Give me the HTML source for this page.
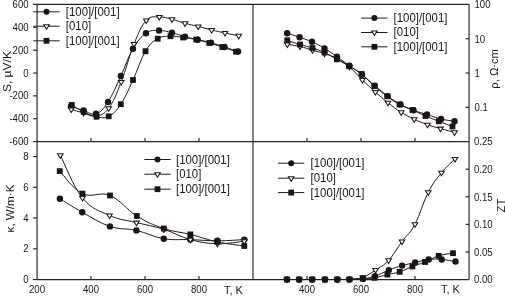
<!DOCTYPE html>
<html><head><meta charset="utf-8"><style>
html,body{margin:0;padding:0;background:#fff;}
svg{display:block;will-change:transform;font-family:"Liberation Sans",sans-serif;fill:#1a1616;}
</style></head><body>
<svg width="505" height="296" viewBox="0 0 505 296">
<rect x="0" y="0" width="505" height="296" fill="#fff"/>
<line x1="33.05" y1="4.45" x2="469.08" y2="4.45" stroke="#2a2222" stroke-width="1.15"/>
<line x1="37.05" y1="141.60" x2="469.08" y2="141.60" stroke="#2a2222" stroke-width="1.15"/>
<line x1="37.05" y1="279.55" x2="469.08" y2="279.55" stroke="#2a2222" stroke-width="1.15"/>
<line x1="37.05" y1="4.45" x2="37.05" y2="279.55" stroke="#2a2222" stroke-width="1.15"/>
<line x1="252.98" y1="4.45" x2="252.98" y2="279.55" stroke="#2a2222" stroke-width="1.15"/>
<line x1="469.08" y1="4.45" x2="469.08" y2="279.55" stroke="#2a2222" stroke-width="1.15"/>
<line x1="33.05" y1="27.31" x2="37.05" y2="27.31" stroke="#2a2222" stroke-width="1.15"/>
<line x1="33.05" y1="50.17" x2="37.05" y2="50.17" stroke="#2a2222" stroke-width="1.15"/>
<line x1="33.05" y1="73.03" x2="37.05" y2="73.03" stroke="#2a2222" stroke-width="1.15"/>
<line x1="33.05" y1="95.88" x2="37.05" y2="95.88" stroke="#2a2222" stroke-width="1.15"/>
<line x1="33.05" y1="118.74" x2="37.05" y2="118.74" stroke="#2a2222" stroke-width="1.15"/>
<line x1="33.05" y1="141.60" x2="37.05" y2="141.60" stroke="#2a2222" stroke-width="1.15"/>
<line x1="33.05" y1="279.55" x2="37.05" y2="279.55" stroke="#2a2222" stroke-width="1.15"/>
<line x1="33.05" y1="248.80" x2="37.05" y2="248.80" stroke="#2a2222" stroke-width="1.15"/>
<line x1="33.05" y1="218.05" x2="37.05" y2="218.05" stroke="#2a2222" stroke-width="1.15"/>
<line x1="33.05" y1="187.30" x2="37.05" y2="187.30" stroke="#2a2222" stroke-width="1.15"/>
<line x1="33.05" y1="156.55" x2="37.05" y2="156.55" stroke="#2a2222" stroke-width="1.15"/>
<line x1="465.58" y1="38.75" x2="469.08" y2="38.75" stroke="#2a2222" stroke-width="1.15"/>
<line x1="465.58" y1="73.05" x2="469.08" y2="73.05" stroke="#2a2222" stroke-width="1.15"/>
<line x1="465.58" y1="107.35" x2="469.08" y2="107.35" stroke="#2a2222" stroke-width="1.15"/>
<line x1="465.58" y1="251.96" x2="469.08" y2="251.96" stroke="#2a2222" stroke-width="1.15"/>
<line x1="465.58" y1="224.37" x2="469.08" y2="224.37" stroke="#2a2222" stroke-width="1.15"/>
<line x1="465.58" y1="196.78" x2="469.08" y2="196.78" stroke="#2a2222" stroke-width="1.15"/>
<line x1="465.58" y1="169.19" x2="469.08" y2="169.19" stroke="#2a2222" stroke-width="1.15"/>
<line x1="91.00" y1="138.10" x2="91.00" y2="141.60" stroke="#2a2222" stroke-width="1.15"/>
<line x1="91.00" y1="276.05" x2="91.00" y2="279.55" stroke="#2a2222" stroke-width="1.15"/>
<line x1="145.00" y1="138.10" x2="145.00" y2="141.60" stroke="#2a2222" stroke-width="1.15"/>
<line x1="145.00" y1="276.05" x2="145.00" y2="279.55" stroke="#2a2222" stroke-width="1.15"/>
<line x1="199.00" y1="138.10" x2="199.00" y2="141.60" stroke="#2a2222" stroke-width="1.15"/>
<line x1="199.00" y1="276.05" x2="199.00" y2="279.55" stroke="#2a2222" stroke-width="1.15"/>
<line x1="307.00" y1="138.10" x2="307.00" y2="141.60" stroke="#2a2222" stroke-width="1.15"/>
<line x1="307.00" y1="276.05" x2="307.00" y2="279.55" stroke="#2a2222" stroke-width="1.15"/>
<line x1="361.00" y1="138.10" x2="361.00" y2="141.60" stroke="#2a2222" stroke-width="1.15"/>
<line x1="361.00" y1="276.05" x2="361.00" y2="279.55" stroke="#2a2222" stroke-width="1.15"/>
<line x1="415.00" y1="138.10" x2="415.00" y2="141.60" stroke="#2a2222" stroke-width="1.15"/>
<line x1="415.00" y1="276.05" x2="415.00" y2="279.55" stroke="#2a2222" stroke-width="1.15"/>
<path d="M71.00,106.20 C73.52,107.06 78.60,108.98 83.60,110.50 C88.60,112.02 91.12,115.50 96.00,113.80 C100.88,112.10 103.04,109.56 108.00,102.00 C112.96,94.44 115.80,86.64 120.80,76.00 C125.80,65.36 127.96,57.36 133.00,48.80 C138.04,40.24 140.80,36.86 146.00,33.20 C151.20,29.54 153.80,30.60 159.00,30.50 C164.20,30.40 166.80,31.46 172.00,32.70 C177.20,33.94 179.84,35.30 185.00,36.70 C190.16,38.10 192.60,38.50 197.80,39.70 C203.00,40.90 205.66,41.24 211.00,42.70 C216.34,44.16 219.10,45.24 224.50,47.00 C229.90,48.76 235.30,50.60 238.00,51.50" fill="none" stroke="#231a18" stroke-width="1.0"/><circle cx="71.00" cy="106.20" r="3.20" fill="#1a1412"/><circle cx="83.60" cy="110.50" r="3.20" fill="#1a1412"/><circle cx="96.00" cy="113.80" r="3.20" fill="#1a1412"/><circle cx="108.00" cy="102.00" r="3.20" fill="#1a1412"/><circle cx="120.80" cy="76.00" r="3.20" fill="#1a1412"/><circle cx="133.00" cy="48.80" r="3.20" fill="#1a1412"/><circle cx="146.00" cy="33.20" r="3.20" fill="#1a1412"/><circle cx="159.00" cy="30.50" r="3.20" fill="#1a1412"/><circle cx="172.00" cy="32.70" r="3.20" fill="#1a1412"/><circle cx="185.00" cy="36.70" r="3.20" fill="#1a1412"/><circle cx="197.80" cy="39.70" r="3.20" fill="#1a1412"/><circle cx="211.00" cy="42.70" r="3.20" fill="#1a1412"/><circle cx="224.50" cy="47.00" r="3.20" fill="#1a1412"/><circle cx="238.00" cy="51.50" r="3.20" fill="#1a1412"/>
<path d="M71.20,109.40 C73.70,110.12 78.74,111.68 83.70,113.00 C88.66,114.32 91.00,116.96 96.00,116.00 C101.00,115.04 103.66,115.00 108.70,108.20 C113.74,101.40 116.14,94.84 121.20,82.00 C126.26,69.16 128.98,56.30 134.00,44.00 C139.02,31.70 141.24,25.90 146.30,20.50 C151.36,15.10 154.16,17.24 159.30,17.00 C164.44,16.76 166.86,18.04 172.00,19.30 C177.14,20.56 179.76,21.86 185.00,23.30 C190.24,24.74 192.86,25.16 198.20,26.50 C203.54,27.84 206.34,28.70 211.70,30.00 C217.06,31.30 219.60,31.84 225.00,33.00 C230.40,34.16 235.96,35.24 238.70,35.80" fill="none" stroke="#231a18" stroke-width="1.0"/><path d="M68.40,107.90 L74.00,107.90 L71.20,112.50 Z" fill="#fff" stroke="#1a1412" stroke-width="1.05" stroke-linejoin="miter"/><path d="M80.90,111.50 L86.50,111.50 L83.70,116.10 Z" fill="#fff" stroke="#1a1412" stroke-width="1.05" stroke-linejoin="miter"/><path d="M93.20,114.50 L98.80,114.50 L96.00,119.10 Z" fill="#fff" stroke="#1a1412" stroke-width="1.05" stroke-linejoin="miter"/><path d="M105.90,106.70 L111.50,106.70 L108.70,111.30 Z" fill="#fff" stroke="#1a1412" stroke-width="1.05" stroke-linejoin="miter"/><path d="M118.40,80.50 L124.00,80.50 L121.20,85.10 Z" fill="#fff" stroke="#1a1412" stroke-width="1.05" stroke-linejoin="miter"/><path d="M131.20,42.50 L136.80,42.50 L134.00,47.10 Z" fill="#fff" stroke="#1a1412" stroke-width="1.05" stroke-linejoin="miter"/><path d="M143.50,19.00 L149.10,19.00 L146.30,23.60 Z" fill="#fff" stroke="#1a1412" stroke-width="1.05" stroke-linejoin="miter"/><path d="M156.50,15.50 L162.10,15.50 L159.30,20.10 Z" fill="#fff" stroke="#1a1412" stroke-width="1.05" stroke-linejoin="miter"/><path d="M169.20,17.80 L174.80,17.80 L172.00,22.40 Z" fill="#fff" stroke="#1a1412" stroke-width="1.05" stroke-linejoin="miter"/><path d="M182.20,21.80 L187.80,21.80 L185.00,26.40 Z" fill="#fff" stroke="#1a1412" stroke-width="1.05" stroke-linejoin="miter"/><path d="M195.40,25.00 L201.00,25.00 L198.20,29.60 Z" fill="#fff" stroke="#1a1412" stroke-width="1.05" stroke-linejoin="miter"/><path d="M208.90,28.50 L214.50,28.50 L211.70,33.10 Z" fill="#fff" stroke="#1a1412" stroke-width="1.05" stroke-linejoin="miter"/><path d="M222.20,31.50 L227.80,31.50 L225.00,36.10 Z" fill="#fff" stroke="#1a1412" stroke-width="1.05" stroke-linejoin="miter"/><path d="M235.90,34.30 L241.50,34.30 L238.70,38.90 Z" fill="#fff" stroke="#1a1412" stroke-width="1.05" stroke-linejoin="miter"/>
<path d="M71.80,105.00 C74.18,106.40 78.76,109.66 83.70,112.00 C88.64,114.34 91.50,115.84 96.50,116.70 C101.50,117.56 103.84,118.80 108.70,116.30 C113.56,113.80 115.94,111.46 120.80,104.20 C125.66,96.94 128.06,90.60 133.00,80.00 C137.94,69.40 140.56,59.46 145.50,51.20 C150.44,42.94 152.70,41.70 157.70,38.70 C162.70,35.70 165.40,36.44 170.50,36.20 C175.60,35.96 178.06,36.84 183.20,37.50 C188.34,38.16 190.98,38.40 196.20,39.50 C201.42,40.60 204.08,41.50 209.30,43.00 C214.52,44.50 216.96,45.26 222.30,47.00 C227.64,48.74 233.26,50.76 236.00,51.70" fill="none" stroke="#231a18" stroke-width="1.0"/><rect x="68.90" y="102.10" width="5.80" height="5.80" fill="#1a1412"/><rect x="80.80" y="109.10" width="5.80" height="5.80" fill="#1a1412"/><rect x="93.60" y="113.80" width="5.80" height="5.80" fill="#1a1412"/><rect x="105.80" y="113.40" width="5.80" height="5.80" fill="#1a1412"/><rect x="117.90" y="101.30" width="5.80" height="5.80" fill="#1a1412"/><rect x="130.10" y="77.10" width="5.80" height="5.80" fill="#1a1412"/><rect x="142.60" y="48.30" width="5.80" height="5.80" fill="#1a1412"/><rect x="154.80" y="35.80" width="5.80" height="5.80" fill="#1a1412"/><rect x="167.60" y="33.30" width="5.80" height="5.80" fill="#1a1412"/><rect x="180.30" y="34.60" width="5.80" height="5.80" fill="#1a1412"/><rect x="193.30" y="36.60" width="5.80" height="5.80" fill="#1a1412"/><rect x="206.40" y="40.10" width="5.80" height="5.80" fill="#1a1412"/><rect x="219.40" y="44.10" width="5.80" height="5.80" fill="#1a1412"/><rect x="233.10" y="48.80" width="5.80" height="5.80" fill="#1a1412"/>
<path d="M287.20,33.20 C289.68,34.02 294.64,35.58 299.60,37.30 C304.56,39.02 307.02,39.58 312.00,41.80 C316.98,44.02 319.52,45.44 324.50,48.40 C329.48,51.36 331.94,53.16 336.90,56.60 C341.86,60.04 344.28,61.96 349.30,65.60 C354.32,69.24 356.90,70.78 362.00,74.80 C367.10,78.82 369.64,81.44 374.80,85.70 C379.96,89.96 382.66,92.36 387.80,96.10 C392.94,99.84 395.36,101.56 400.50,104.40 C405.64,107.24 408.20,108.28 413.50,110.30 C418.80,112.32 421.50,112.76 427.00,114.50 C432.50,116.24 435.50,117.66 441.00,119.00 C446.50,120.34 451.80,120.76 454.50,121.20" fill="none" stroke="#231a18" stroke-width="1.0"/><circle cx="287.20" cy="33.20" r="3.20" fill="#1a1412"/><circle cx="299.60" cy="37.30" r="3.20" fill="#1a1412"/><circle cx="312.00" cy="41.80" r="3.20" fill="#1a1412"/><circle cx="324.50" cy="48.40" r="3.20" fill="#1a1412"/><circle cx="336.90" cy="56.60" r="3.20" fill="#1a1412"/><circle cx="349.30" cy="65.60" r="3.20" fill="#1a1412"/><circle cx="362.00" cy="74.80" r="3.20" fill="#1a1412"/><circle cx="374.80" cy="85.70" r="3.20" fill="#1a1412"/><circle cx="387.80" cy="96.10" r="3.20" fill="#1a1412"/><circle cx="400.50" cy="104.40" r="3.20" fill="#1a1412"/><circle cx="413.50" cy="110.30" r="3.20" fill="#1a1412"/><circle cx="427.00" cy="114.50" r="3.20" fill="#1a1412"/><circle cx="441.00" cy="119.00" r="3.20" fill="#1a1412"/><circle cx="454.50" cy="121.20" r="3.20" fill="#1a1412"/>
<path d="M287.30,44.30 C289.84,44.74 294.96,45.32 300.00,46.50 C305.04,47.68 307.60,48.78 312.50,50.20 C317.40,51.62 319.64,51.94 324.50,53.60 C329.36,55.26 331.80,55.82 336.80,58.50 C341.80,61.18 344.38,62.70 349.50,67.00 C354.62,71.30 357.22,75.00 362.40,80.00 C367.58,85.00 370.28,87.46 375.40,92.00 C380.52,96.54 382.84,98.64 388.00,102.70 C393.16,106.76 395.96,109.00 401.20,112.30 C406.44,115.60 408.94,116.72 414.20,119.20 C419.46,121.68 422.24,122.82 427.50,124.70 C432.76,126.58 435.10,127.08 440.50,128.60 C445.90,130.12 451.70,131.56 454.50,132.30" fill="none" stroke="#231a18" stroke-width="1.0"/><path d="M284.50,42.80 L290.10,42.80 L287.30,47.40 Z" fill="#fff" stroke="#1a1412" stroke-width="1.05" stroke-linejoin="miter"/><path d="M297.20,45.00 L302.80,45.00 L300.00,49.60 Z" fill="#fff" stroke="#1a1412" stroke-width="1.05" stroke-linejoin="miter"/><path d="M309.70,48.70 L315.30,48.70 L312.50,53.30 Z" fill="#fff" stroke="#1a1412" stroke-width="1.05" stroke-linejoin="miter"/><path d="M321.70,52.10 L327.30,52.10 L324.50,56.70 Z" fill="#fff" stroke="#1a1412" stroke-width="1.05" stroke-linejoin="miter"/><path d="M334.00,57.00 L339.60,57.00 L336.80,61.60 Z" fill="#fff" stroke="#1a1412" stroke-width="1.05" stroke-linejoin="miter"/><path d="M346.70,65.50 L352.30,65.50 L349.50,70.10 Z" fill="#fff" stroke="#1a1412" stroke-width="1.05" stroke-linejoin="miter"/><path d="M359.60,78.50 L365.20,78.50 L362.40,83.10 Z" fill="#fff" stroke="#1a1412" stroke-width="1.05" stroke-linejoin="miter"/><path d="M372.60,90.50 L378.20,90.50 L375.40,95.10 Z" fill="#fff" stroke="#1a1412" stroke-width="1.05" stroke-linejoin="miter"/><path d="M385.20,101.20 L390.80,101.20 L388.00,105.80 Z" fill="#fff" stroke="#1a1412" stroke-width="1.05" stroke-linejoin="miter"/><path d="M398.40,110.80 L404.00,110.80 L401.20,115.40 Z" fill="#fff" stroke="#1a1412" stroke-width="1.05" stroke-linejoin="miter"/><path d="M411.40,117.70 L417.00,117.70 L414.20,122.30 Z" fill="#fff" stroke="#1a1412" stroke-width="1.05" stroke-linejoin="miter"/><path d="M424.70,123.20 L430.30,123.20 L427.50,127.80 Z" fill="#fff" stroke="#1a1412" stroke-width="1.05" stroke-linejoin="miter"/><path d="M437.70,127.10 L443.30,127.10 L440.50,131.70 Z" fill="#fff" stroke="#1a1412" stroke-width="1.05" stroke-linejoin="miter"/><path d="M451.70,130.80 L457.30,130.80 L454.50,135.40 Z" fill="#fff" stroke="#1a1412" stroke-width="1.05" stroke-linejoin="miter"/>
<path d="M287.20,40.30 C289.76,41.14 294.94,42.96 300.00,44.50 C305.06,46.04 307.60,46.40 312.50,48.00 C317.40,49.60 319.64,50.24 324.50,52.50 C329.36,54.76 331.88,56.56 336.80,59.30 C341.72,62.04 344.14,63.28 349.10,66.20 C354.06,69.12 356.54,69.92 361.60,73.90 C366.66,77.88 369.28,81.62 374.40,86.10 C379.52,90.58 382.18,92.62 387.20,96.30 C392.22,99.98 394.44,101.76 399.50,104.50 C404.56,107.24 407.30,107.70 412.50,110.00 C417.70,112.30 420.24,113.74 425.50,116.00 C430.76,118.26 433.40,119.20 438.80,121.30 C444.20,123.40 449.76,125.46 452.50,126.50" fill="none" stroke="#231a18" stroke-width="1.0"/><rect x="284.30" y="37.40" width="5.80" height="5.80" fill="#1a1412"/><rect x="297.10" y="41.60" width="5.80" height="5.80" fill="#1a1412"/><rect x="309.60" y="45.10" width="5.80" height="5.80" fill="#1a1412"/><rect x="321.60" y="49.60" width="5.80" height="5.80" fill="#1a1412"/><rect x="333.90" y="56.40" width="5.80" height="5.80" fill="#1a1412"/><rect x="346.20" y="63.30" width="5.80" height="5.80" fill="#1a1412"/><rect x="358.70" y="71.00" width="5.80" height="5.80" fill="#1a1412"/><rect x="371.50" y="83.20" width="5.80" height="5.80" fill="#1a1412"/><rect x="384.30" y="93.40" width="5.80" height="5.80" fill="#1a1412"/><rect x="396.60" y="101.60" width="5.80" height="5.80" fill="#1a1412"/><rect x="409.60" y="107.10" width="5.80" height="5.80" fill="#1a1412"/><rect x="422.60" y="113.10" width="5.80" height="5.80" fill="#1a1412"/><rect x="435.90" y="118.40" width="5.80" height="5.80" fill="#1a1412"/><rect x="449.60" y="123.60" width="5.80" height="5.80" fill="#1a1412"/>
<path d="M59.90,198.70 C64.36,201.40 72.18,206.66 82.20,212.20 C92.22,217.74 99.16,222.76 110.00,226.40 C120.84,230.04 125.64,227.94 136.40,230.40 C147.16,232.86 153.02,236.86 163.80,238.70 C174.58,240.54 179.58,239.18 190.30,239.60 C201.02,240.02 206.60,240.80 217.40,240.80 C228.20,240.80 238.92,239.84 244.30,239.60" fill="none" stroke="#231a18" stroke-width="1.0"/><circle cx="59.90" cy="198.70" r="3.20" fill="#1a1412"/><circle cx="82.20" cy="212.20" r="3.20" fill="#1a1412"/><circle cx="110.00" cy="226.40" r="3.20" fill="#1a1412"/><circle cx="136.40" cy="230.40" r="3.20" fill="#1a1412"/><circle cx="163.80" cy="238.70" r="3.20" fill="#1a1412"/><circle cx="190.30" cy="239.60" r="3.20" fill="#1a1412"/><circle cx="217.40" cy="240.80" r="3.20" fill="#1a1412"/><circle cx="244.30" cy="239.60" r="3.20" fill="#1a1412"/>
<path d="M60.30,155.20 C64.74,163.72 72.66,185.76 82.50,197.80 C92.34,209.84 98.70,210.44 109.50,215.40 C120.30,220.36 125.64,219.82 136.50,222.60 C147.36,225.38 153.02,225.90 163.80,229.30 C174.58,232.70 179.68,236.72 190.40,239.60 C201.12,242.48 206.62,243.38 217.40,243.70 C228.18,244.02 238.92,241.70 244.30,241.20" fill="none" stroke="#231a18" stroke-width="1.0"/><path d="M57.50,153.70 L63.10,153.70 L60.30,158.30 Z" fill="#fff" stroke="#1a1412" stroke-width="1.05" stroke-linejoin="miter"/><path d="M79.70,196.30 L85.30,196.30 L82.50,200.90 Z" fill="#fff" stroke="#1a1412" stroke-width="1.05" stroke-linejoin="miter"/><path d="M106.70,213.90 L112.30,213.90 L109.50,218.50 Z" fill="#fff" stroke="#1a1412" stroke-width="1.05" stroke-linejoin="miter"/><path d="M133.70,221.10 L139.30,221.10 L136.50,225.70 Z" fill="#fff" stroke="#1a1412" stroke-width="1.05" stroke-linejoin="miter"/><path d="M161.00,227.80 L166.60,227.80 L163.80,232.40 Z" fill="#fff" stroke="#1a1412" stroke-width="1.05" stroke-linejoin="miter"/><path d="M187.60,238.10 L193.20,238.10 L190.40,242.70 Z" fill="#fff" stroke="#1a1412" stroke-width="1.05" stroke-linejoin="miter"/><path d="M214.60,242.20 L220.20,242.20 L217.40,246.80 Z" fill="#fff" stroke="#1a1412" stroke-width="1.05" stroke-linejoin="miter"/><path d="M241.50,239.70 L247.10,239.70 L244.30,244.30 Z" fill="#fff" stroke="#1a1412" stroke-width="1.05" stroke-linejoin="miter"/>
<path d="M59.70,171.10 C64.26,175.60 72.44,188.72 82.50,193.60 C92.56,198.48 99.14,191.02 110.00,195.50 C120.86,199.98 126.04,209.40 136.80,216.00 C147.56,222.60 153.10,224.82 163.80,228.50 C174.50,232.18 179.58,231.72 190.30,234.40 C201.02,237.08 206.60,239.58 217.40,241.90 C228.20,244.22 238.92,245.18 244.30,246.00" fill="none" stroke="#231a18" stroke-width="1.0"/><rect x="56.80" y="168.20" width="5.80" height="5.80" fill="#1a1412"/><rect x="79.60" y="190.70" width="5.80" height="5.80" fill="#1a1412"/><rect x="107.10" y="192.60" width="5.80" height="5.80" fill="#1a1412"/><rect x="133.90" y="213.10" width="5.80" height="5.80" fill="#1a1412"/><rect x="160.90" y="225.60" width="5.80" height="5.80" fill="#1a1412"/><rect x="187.40" y="231.50" width="5.80" height="5.80" fill="#1a1412"/><rect x="214.50" y="239.00" width="5.80" height="5.80" fill="#1a1412"/><rect x="241.40" y="243.10" width="5.80" height="5.80" fill="#1a1412"/>
<path d="M286.90,279.50 C289.36,279.50 294.14,279.50 299.20,279.50 C304.26,279.50 307.06,279.50 312.20,279.50 C317.34,279.50 319.88,279.50 324.90,279.50 C329.92,279.50 332.38,279.52 337.30,279.50 C342.22,279.48 344.36,279.54 349.50,279.40 C354.64,279.26 357.90,279.44 363.00,278.80 C368.10,278.16 369.84,277.94 375.00,276.20 C380.16,274.46 383.38,272.22 388.80,270.10 C394.22,267.98 396.82,267.12 402.10,265.60 C407.38,264.08 409.88,263.72 415.20,262.50 C420.52,261.28 423.40,260.10 428.70,259.50 C434.00,258.90 436.34,259.10 441.70,259.50 C447.06,259.90 452.74,261.10 455.50,261.50" fill="none" stroke="#231a18" stroke-width="1.0"/><circle cx="286.90" cy="279.50" r="3.20" fill="#1a1412"/><circle cx="299.20" cy="279.50" r="3.20" fill="#1a1412"/><circle cx="312.20" cy="279.50" r="3.20" fill="#1a1412"/><circle cx="324.90" cy="279.50" r="3.20" fill="#1a1412"/><circle cx="337.30" cy="279.50" r="3.20" fill="#1a1412"/><circle cx="349.50" cy="279.40" r="3.20" fill="#1a1412"/><circle cx="363.00" cy="278.80" r="3.20" fill="#1a1412"/><circle cx="375.00" cy="276.20" r="3.20" fill="#1a1412"/><circle cx="388.80" cy="270.10" r="3.20" fill="#1a1412"/><circle cx="402.10" cy="265.60" r="3.20" fill="#1a1412"/><circle cx="415.20" cy="262.50" r="3.20" fill="#1a1412"/><circle cx="428.70" cy="259.50" r="3.20" fill="#1a1412"/><circle cx="441.70" cy="259.50" r="3.20" fill="#1a1412"/><circle cx="455.50" cy="261.50" r="3.20" fill="#1a1412"/>
<path d="M286.90,279.50 C289.36,279.50 294.14,279.50 299.20,279.50 C304.26,279.50 307.06,279.50 312.20,279.50 C317.34,279.50 319.88,279.50 324.90,279.50 C329.92,279.50 332.38,279.56 337.30,279.50 C342.22,279.44 344.40,279.64 349.50,279.20 C354.60,278.76 357.58,279.14 362.80,277.30 C368.02,275.46 370.44,273.40 375.60,270.00 C380.76,266.60 383.32,266.00 388.60,260.30 C393.88,254.60 396.72,248.72 402.00,241.50 C407.28,234.28 409.74,234.06 415.00,224.20 C420.26,214.34 423.00,202.50 428.30,192.20 C433.60,181.90 436.16,179.34 441.50,172.70 C446.84,166.06 452.30,161.74 455.00,159.00" fill="none" stroke="#231a18" stroke-width="1.0"/><path d="M284.10,278.00 L289.70,278.00 L286.90,282.60 Z" fill="#fff" stroke="#1a1412" stroke-width="1.05" stroke-linejoin="miter"/><path d="M296.40,278.00 L302.00,278.00 L299.20,282.60 Z" fill="#fff" stroke="#1a1412" stroke-width="1.05" stroke-linejoin="miter"/><path d="M309.40,278.00 L315.00,278.00 L312.20,282.60 Z" fill="#fff" stroke="#1a1412" stroke-width="1.05" stroke-linejoin="miter"/><path d="M322.10,278.00 L327.70,278.00 L324.90,282.60 Z" fill="#fff" stroke="#1a1412" stroke-width="1.05" stroke-linejoin="miter"/><path d="M334.50,278.00 L340.10,278.00 L337.30,282.60 Z" fill="#fff" stroke="#1a1412" stroke-width="1.05" stroke-linejoin="miter"/><path d="M346.70,277.70 L352.30,277.70 L349.50,282.30 Z" fill="#fff" stroke="#1a1412" stroke-width="1.05" stroke-linejoin="miter"/><path d="M360.00,275.80 L365.60,275.80 L362.80,280.40 Z" fill="#fff" stroke="#1a1412" stroke-width="1.05" stroke-linejoin="miter"/><path d="M372.80,268.50 L378.40,268.50 L375.60,273.10 Z" fill="#fff" stroke="#1a1412" stroke-width="1.05" stroke-linejoin="miter"/><path d="M385.80,258.80 L391.40,258.80 L388.60,263.40 Z" fill="#fff" stroke="#1a1412" stroke-width="1.05" stroke-linejoin="miter"/><path d="M399.20,240.00 L404.80,240.00 L402.00,244.60 Z" fill="#fff" stroke="#1a1412" stroke-width="1.05" stroke-linejoin="miter"/><path d="M412.20,222.70 L417.80,222.70 L415.00,227.30 Z" fill="#fff" stroke="#1a1412" stroke-width="1.05" stroke-linejoin="miter"/><path d="M425.50,190.70 L431.10,190.70 L428.30,195.30 Z" fill="#fff" stroke="#1a1412" stroke-width="1.05" stroke-linejoin="miter"/><path d="M438.70,171.20 L444.30,171.20 L441.50,175.80 Z" fill="#fff" stroke="#1a1412" stroke-width="1.05" stroke-linejoin="miter"/><path d="M452.20,157.50 L457.80,157.50 L455.00,162.10 Z" fill="#fff" stroke="#1a1412" stroke-width="1.05" stroke-linejoin="miter"/>
<path d="M286.90,279.50 C289.36,279.50 294.14,279.50 299.20,279.50 C304.26,279.50 307.06,279.50 312.20,279.50 C317.34,279.50 319.88,279.50 324.90,279.50 C329.92,279.50 332.38,279.52 337.30,279.50 C342.22,279.48 344.36,279.58 349.50,279.40 C354.64,279.22 358.00,278.92 363.00,278.60 C368.00,278.28 369.62,278.60 374.50,277.80 C379.38,277.00 382.36,275.80 387.40,274.60 C392.44,273.40 394.70,273.42 399.70,271.80 C404.70,270.18 407.34,268.46 412.40,266.50 C417.46,264.54 419.74,264.14 425.00,262.00 C430.26,259.86 433.10,257.56 438.70,255.80 C444.30,254.04 450.14,253.72 453.00,253.20" fill="none" stroke="#231a18" stroke-width="1.0"/><rect x="284.00" y="276.60" width="5.80" height="5.80" fill="#1a1412"/><rect x="296.30" y="276.60" width="5.80" height="5.80" fill="#1a1412"/><rect x="309.30" y="276.60" width="5.80" height="5.80" fill="#1a1412"/><rect x="322.00" y="276.60" width="5.80" height="5.80" fill="#1a1412"/><rect x="334.40" y="276.60" width="5.80" height="5.80" fill="#1a1412"/><rect x="346.60" y="276.50" width="5.80" height="5.80" fill="#1a1412"/><rect x="360.10" y="275.70" width="5.80" height="5.80" fill="#1a1412"/><rect x="371.60" y="274.90" width="5.80" height="5.80" fill="#1a1412"/><rect x="384.50" y="271.70" width="5.80" height="5.80" fill="#1a1412"/><rect x="396.80" y="268.90" width="5.80" height="5.80" fill="#1a1412"/><rect x="409.50" y="263.60" width="5.80" height="5.80" fill="#1a1412"/><rect x="422.10" y="259.10" width="5.80" height="5.80" fill="#1a1412"/><rect x="435.80" y="252.90" width="5.80" height="5.80" fill="#1a1412"/><rect x="450.10" y="250.30" width="5.80" height="5.80" fill="#1a1412"/>
<line x1="33.30" y1="11.80" x2="59.60" y2="11.80" stroke="#231a18" stroke-width="1.00"/><circle cx="46.50" cy="11.80" r="3.00" fill="#1a1412"/><text transform="translate(65.80,15.85) scale(0.95,1)" font-size="12.0">[100]/[001]</text><line x1="33.30" y1="26.20" x2="59.60" y2="26.20" stroke="#231a18" stroke-width="1.00"/><path d="M43.70,24.70 L49.30,24.70 L46.50,29.30 Z" fill="#fff" stroke="#1a1412" stroke-width="1.05" stroke-linejoin="miter"/><text transform="translate(65.80,29.95) scale(0.95,1)" font-size="12.0">[010]</text><line x1="33.30" y1="40.80" x2="59.60" y2="40.80" stroke="#231a18" stroke-width="1.00"/><rect x="43.60" y="37.90" width="5.80" height="5.80" fill="#1a1412"/><text transform="translate(65.80,44.85) scale(0.95,1)" font-size="12.0">[100]/[001]</text>
<line x1="361.20" y1="18.10" x2="387.50" y2="18.10" stroke="#231a18" stroke-width="1.00"/><circle cx="374.40" cy="18.10" r="3.00" fill="#1a1412"/><text transform="translate(393.60,22.15) scale(0.95,1)" font-size="12.0">[100]/[001]</text><line x1="361.20" y1="32.50" x2="387.50" y2="32.50" stroke="#231a18" stroke-width="1.00"/><path d="M371.60,31.00 L377.20,31.00 L374.40,35.60 Z" fill="#fff" stroke="#1a1412" stroke-width="1.05" stroke-linejoin="miter"/><text transform="translate(393.60,36.25) scale(0.95,1)" font-size="12.0">[010]</text><line x1="361.20" y1="46.80" x2="387.50" y2="46.80" stroke="#231a18" stroke-width="1.00"/><rect x="371.50" y="43.90" width="5.80" height="5.80" fill="#1a1412"/><text transform="translate(393.60,50.85) scale(0.95,1)" font-size="12.0">[100]/[001]</text>
<line x1="144.30" y1="159.50" x2="170.60" y2="159.50" stroke="#231a18" stroke-width="1.00"/><circle cx="157.50" cy="159.50" r="3.00" fill="#1a1412"/><text transform="translate(176.00,163.55) scale(0.95,1)" font-size="12.0">[100]/[001]</text><line x1="144.30" y1="174.20" x2="170.60" y2="174.20" stroke="#231a18" stroke-width="1.00"/><path d="M154.70,172.70 L160.30,172.70 L157.50,177.30 Z" fill="#fff" stroke="#1a1412" stroke-width="1.05" stroke-linejoin="miter"/><text transform="translate(176.00,177.95) scale(0.95,1)" font-size="12.0">[010]</text><line x1="144.30" y1="189.20" x2="170.60" y2="189.20" stroke="#231a18" stroke-width="1.00"/><rect x="154.60" y="186.30" width="5.80" height="5.80" fill="#1a1412"/><text transform="translate(176.00,193.25) scale(0.95,1)" font-size="12.0">[100]/[001]</text>
<line x1="278.00" y1="163.20" x2="304.30" y2="163.20" stroke="#231a18" stroke-width="1.00"/><circle cx="291.20" cy="163.20" r="3.00" fill="#1a1412"/><text transform="translate(310.60,167.25) scale(0.95,1)" font-size="12.0">[100]/[001]</text><line x1="278.00" y1="178.20" x2="304.30" y2="178.20" stroke="#231a18" stroke-width="1.00"/><path d="M288.40,176.70 L294.00,176.70 L291.20,181.30 Z" fill="#fff" stroke="#1a1412" stroke-width="1.05" stroke-linejoin="miter"/><text transform="translate(310.60,181.95) scale(0.95,1)" font-size="12.0">[010]</text><line x1="278.00" y1="192.60" x2="304.30" y2="192.60" stroke="#231a18" stroke-width="1.00"/><rect x="288.30" y="189.70" width="5.80" height="5.80" fill="#1a1412"/><text transform="translate(310.60,196.65) scale(0.95,1)" font-size="12.0">[100]/[001]</text>
<text transform="translate(28.60,8.00) scale(0.96,1)" font-size="10" text-anchor="end">600</text>
<text transform="translate(28.60,30.86) scale(0.96,1)" font-size="10" text-anchor="end">400</text>
<text transform="translate(28.60,53.72) scale(0.96,1)" font-size="10" text-anchor="end">200</text>
<text transform="translate(28.60,76.58) scale(0.96,1)" font-size="10" text-anchor="end">0</text>
<text transform="translate(28.60,99.43) scale(0.96,1)" font-size="10" text-anchor="end">-200</text>
<text transform="translate(28.60,122.29) scale(0.96,1)" font-size="10" text-anchor="end">-400</text>
<text transform="translate(28.60,145.15) scale(0.96,1)" font-size="10" text-anchor="end">-600</text>
<text transform="translate(28.60,252.35) scale(0.96,1)" font-size="10" text-anchor="end">2</text>
<text transform="translate(28.60,221.60) scale(0.96,1)" font-size="10" text-anchor="end">4</text>
<text transform="translate(28.60,190.85) scale(0.96,1)" font-size="10" text-anchor="end">6</text>
<text transform="translate(28.60,160.10) scale(0.96,1)" font-size="10" text-anchor="end">8</text>
<text transform="translate(28.60,283.10) scale(0.96,1)" font-size="10" text-anchor="end">0</text>
<text transform="translate(37.00,293.05) scale(0.96,1)" font-size="10" text-anchor="middle">200</text>
<text transform="translate(91.00,293.05) scale(0.96,1)" font-size="10" text-anchor="middle">400</text>
<text transform="translate(145.00,293.05) scale(0.96,1)" font-size="10" text-anchor="middle">600</text>
<text transform="translate(199.00,293.05) scale(0.96,1)" font-size="10" text-anchor="middle">800</text>
<text transform="translate(307.00,293.05) scale(0.96,1)" font-size="10" text-anchor="middle">400</text>
<text transform="translate(361.00,293.05) scale(0.96,1)" font-size="10" text-anchor="middle">600</text>
<text transform="translate(415.00,293.05) scale(0.96,1)" font-size="10" text-anchor="middle">800</text>
<text transform="translate(474.50,8.40) scale(0.96,1)" font-size="10" text-anchor="start">100</text>
<text transform="translate(474.50,42.70) scale(0.96,1)" font-size="10" text-anchor="start">10</text>
<text transform="translate(474.50,77.00) scale(0.96,1)" font-size="10" text-anchor="start">1</text>
<text transform="translate(474.50,111.30) scale(0.96,1)" font-size="10" text-anchor="start">0.1</text>
<text transform="translate(474.00,283.40) scale(0.96,1)" font-size="10" text-anchor="start">0.00</text>
<text transform="translate(474.00,255.81) scale(0.96,1)" font-size="10" text-anchor="start">0.05</text>
<text transform="translate(474.00,228.22) scale(0.96,1)" font-size="10" text-anchor="start">0.10</text>
<text transform="translate(474.00,200.63) scale(0.96,1)" font-size="10" text-anchor="start">0.15</text>
<text transform="translate(474.00,173.04) scale(0.96,1)" font-size="10" text-anchor="start">0.20</text>
<text transform="translate(474.00,145.45) scale(0.96,1)" font-size="10" text-anchor="start">0.25</text>
<text transform="translate(224,293.6) scale(0.94,1)" font-size="11.7">T, K</text>
<text transform="translate(441,293.4) scale(0.94,1)" font-size="11.7">T, K</text>
<text transform="translate(11.20,71.60) rotate(-90)" font-size="10.8" text-anchor="middle" textLength="41.0" lengthAdjust="spacingAndGlyphs">S, µV/K</text>
<text transform="translate(14.20,208.50) rotate(-90)" font-size="10.8" text-anchor="middle" textLength="47.9" lengthAdjust="spacingAndGlyphs">κ, W/m·K</text>
<text transform="translate(497.50,68.90) rotate(-90)" font-size="11" text-anchor="middle" textLength="39.6" lengthAdjust="spacingAndGlyphs">ρ, Ω·cm</text>
<text transform="translate(505.00,205.60) rotate(-90)" font-size="11.4" text-anchor="middle">ZT</text>
</svg></body></html>
